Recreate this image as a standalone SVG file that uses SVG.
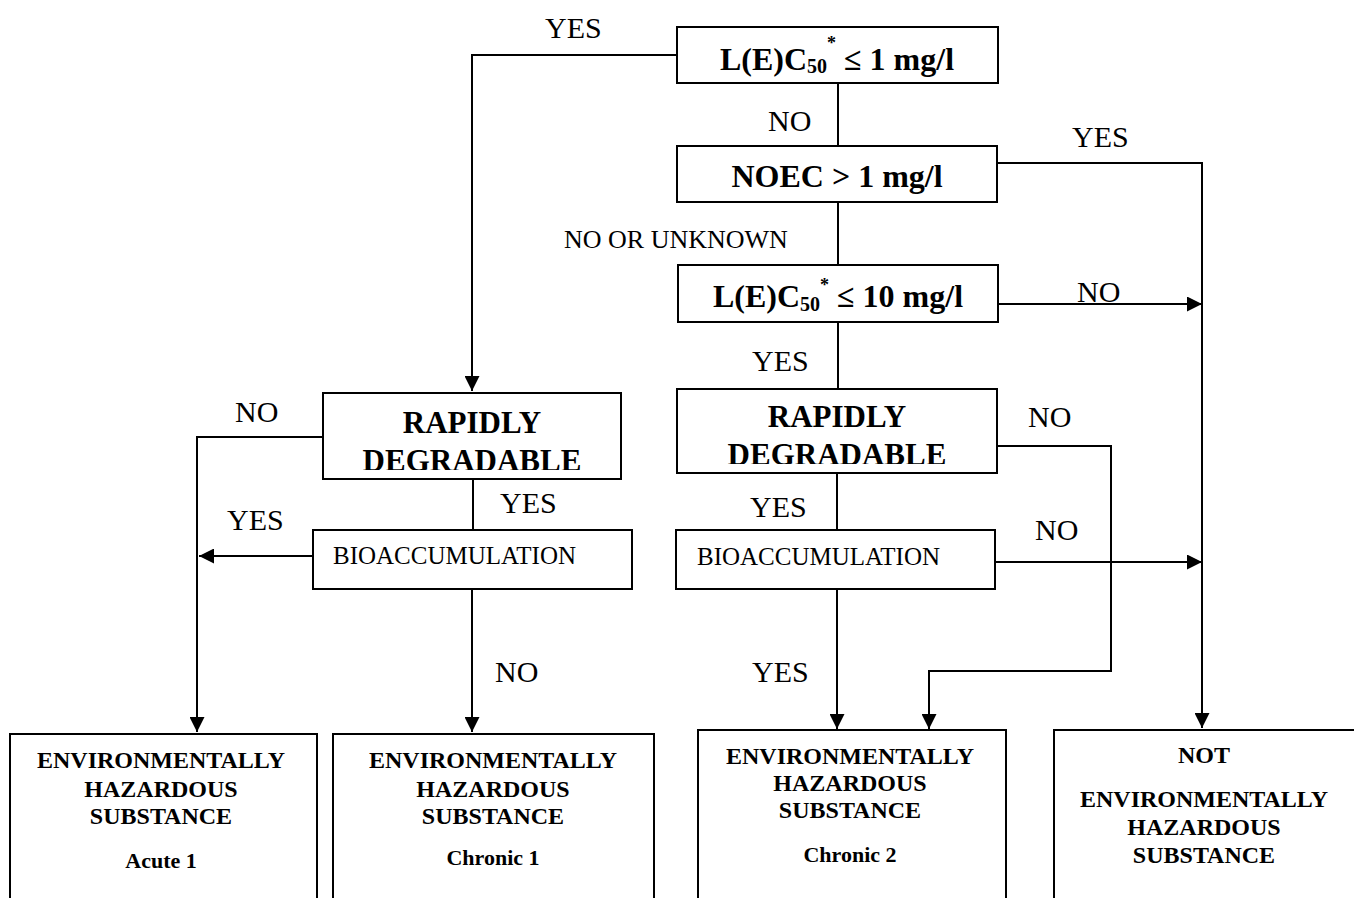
<svg xmlns="http://www.w3.org/2000/svg" width="1354" height="898" viewBox="0 0 1354 898">
<style>
.box{fill:#fff;stroke:#000;stroke-width:2}
.conn{fill:none;stroke:#000;stroke-width:2}
text{font-family:"Liberation Serif","Times New Roman",serif;fill:#000}
.h{font-weight:bold;font-size:32px}
.rd{font-weight:bold;font-size:31px}
.lbl{font-size:30px}
.bio{font-size:25px}
.res{font-weight:bold;font-size:24px;text-anchor:middle}
.cat{font-weight:bold;font-size:22px;text-anchor:middle}
</style>
<defs>
<marker id="arr" markerUnits="userSpaceOnUse" markerWidth="16" markerHeight="15" refX="15" refY="7.5" orient="auto">
<path d="M0,0 L15,7.5 L0,15 z" fill="#000"/>
</marker>
<clipPath id="clipL" clipPathUnits="userSpaceOnUse"><rect x="323" y="393" width="298" height="77"/></clipPath>
<clipPath id="clipR" clipPathUnits="userSpaceOnUse"><rect x="677" y="389" width="320" height="75"/></clipPath>
</defs>
<rect width="1354" height="898" fill="#fff"/>

<g id="connectors">
<polyline class="conn" points="677,55 472,55 472,391" marker-end="url(#arr)"/>
<line class="conn" x1="838" y1="83" x2="838" y2="146"/>
<polyline class="conn" points="997,163 1202,163 1202,728" marker-end="url(#arr)"/>
<line class="conn" x1="838" y1="202" x2="838" y2="264"/>
<line class="conn" x1="998" y1="304" x2="1202" y2="304" marker-end="url(#arr)"/>
<line class="conn" x1="838" y1="322" x2="838" y2="389"/>
<polyline class="conn" points="323,437 197,437 197,732" marker-end="url(#arr)"/>
<line class="conn" x1="473" y1="479" x2="473" y2="530"/>
<line class="conn" x1="313" y1="556" x2="199" y2="556" marker-end="url(#arr)"/>
<line class="conn" x1="472" y1="589" x2="472" y2="732" marker-end="url(#arr)"/>
<polyline class="conn" points="997,446 1111,446 1111,671 929,671 929,729" marker-end="url(#arr)"/>
<line class="conn" x1="837" y1="473" x2="837" y2="530"/>
<line class="conn" x1="995" y1="562" x2="1202" y2="562" marker-end="url(#arr)"/>
<line class="conn" x1="837" y1="589" x2="837" y2="729" marker-end="url(#arr)"/>
</g>

<g id="labels">
<text class="lbl" x="545" y="38">YES</text>
<text class="lbl" x="768" y="131">NO</text>
<text class="lbl" x="1072" y="147">YES</text>
<text x="564" y="248" font-size="26">NO OR UNKNOWN</text>
<text class="lbl" x="1077" y="302">NO</text>
<text class="lbl" x="752" y="371">YES</text>
<text class="lbl" x="235" y="422">NO</text>
<text class="lbl" x="1028" y="427">NO</text>
<text class="lbl" x="500" y="513">YES</text>
<text class="lbl" x="750" y="517">YES</text>
<text class="lbl" x="227" y="530">YES</text>
<text class="lbl" x="1035" y="540">NO</text>
<text class="lbl" x="495" y="682">NO</text>
<text class="lbl" x="752" y="682">YES</text>
</g>

<g id="lc50-1">
<rect class="box" x="677" y="27" width="321" height="56"/>
<text class="h" x="837" y="70" text-anchor="middle">L(E)C<tspan font-size="20" dy="3">50</tspan><tspan font-size="18" dy="-24">*</tspan><tspan dy="21"> ≤ 1 mg/l</tspan></text>
</g>

<g id="noec">
<rect class="box" x="677" y="146" width="320" height="56"/>
<text class="h" x="837" y="187" text-anchor="middle">NOEC &gt; 1 mg/l</text>
</g>

<g id="lc50-10">
<rect class="box" x="678" y="265" width="320" height="57"/>
<text class="h" x="838" y="307" text-anchor="middle">L(E)C<tspan font-size="20" dy="4">50</tspan><tspan font-size="18" dy="-20">*</tspan><tspan dy="16"> ≤ 10 mg/l</tspan></text>
</g>

<g id="rapid-left">
<rect class="box" x="323" y="393" width="298" height="86"/>
<text class="rd" x="472" y="433" text-anchor="middle">RAPIDLY</text>
<text class="rd" x="472" y="471" text-anchor="middle" clip-path="url(#clipL)">DEGRADABLE</text>
</g>

<g id="rapid-right">
<rect class="box" x="677" y="389" width="320" height="84"/>
<text class="rd" x="837" y="427" text-anchor="middle">RAPIDLY</text>
<text class="rd" x="837" y="465" text-anchor="middle" clip-path="url(#clipR)">DEGRADABLE</text>
</g>

<g id="bio-left">
<rect class="box" x="313" y="530" width="319" height="59"/>
<text class="bio" x="333" y="564">BIOACCUMULATION</text>
</g>

<g id="bio-right">
<rect class="box" x="676" y="530" width="319" height="59"/>
<text class="bio" x="697" y="565">BIOACCUMULATION</text>
</g>

<g id="acute1">
<rect class="box" x="10" y="734" width="307" height="180"/>
<text class="res" x="161" y="768">ENVIRONMENTALLY</text>
<text class="res" x="161" y="797">HAZARDOUS</text>
<text class="res" x="161" y="824">SUBSTANCE</text>
<text class="cat" x="161" y="868">Acute 1</text>
</g>

<g id="chronic1">
<rect class="box" x="333" y="734" width="321" height="180"/>
<text class="res" x="493" y="768">ENVIRONMENTALLY</text>
<text class="res" x="493" y="797">HAZARDOUS</text>
<text class="res" x="493" y="824">SUBSTANCE</text>
<text class="cat" x="493" y="865">Chronic 1</text>
</g>

<g id="chronic2">
<rect class="box" x="698" y="730" width="308" height="180"/>
<text class="res" x="850" y="764">ENVIRONMENTALLY</text>
<text class="res" x="850" y="791">HAZARDOUS</text>
<text class="res" x="850" y="818">SUBSTANCE</text>
<text class="cat" x="850" y="862">Chronic 2</text>
</g>

<g id="not-hazardous">
<rect class="box" x="1054" y="730" width="310" height="180"/>
<text class="res" x="1204" y="763">NOT</text>
<text class="res" x="1204" y="807">ENVIRONMENTALLY</text>
<text class="res" x="1204" y="835">HAZARDOUS</text>
<text class="res" x="1204" y="863">SUBSTANCE</text>
</g>
</svg>
